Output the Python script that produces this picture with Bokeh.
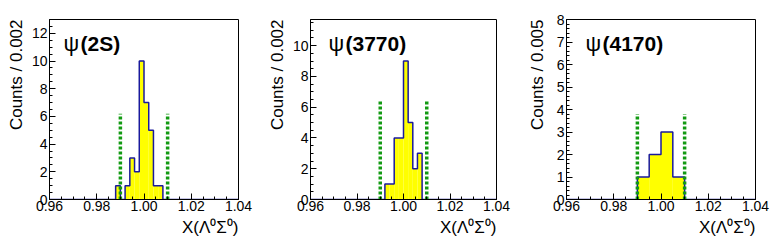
import numpy as np
from bokeh.plotting import figure
from bokeh.layouts import row
from bokeh.models import Range1d, FixedTicker, Label, Title
from bokeh.embed import file_html
from bokeh.resources import INLINE

# ---------------- data ----------------
x_min, x_max = 0.96, 1.04
x_major = [0.96, 0.98, 1.00, 1.02, 1.04]
x_tick_labels = ["0.96", "0.98", "1.00", "1.02", "1.04"]
x_minor_step = 0.005
x_title = "X(Λ⁰Σ⁰)"
cut_lo, cut_hi = 0.99, 1.01

panel_names = ["(2S)", "(3770)", "(4170)"]
y_titles = ["Counts / 0.002", "Counts / 0.002", "Counts / 0.005"]
bin_width = [0.002, 0.002, 0.005]
bin_start = [0.988, 0.992, 0.990]
counts_2s = [1, 0, 1, 3, 2, 10, 7, 5, 1, 1]
counts_3770 = [1, 1, 4, 4, 9, 5, 2, 3]
counts_4170 = [1, 2, 3, 1]
all_counts = [counts_2s, counts_3770, counts_4170]
y_max = [13.0, 11.7, 8.0]
y_major_step = [2, 2, 1]
y_minor_step = [0.5, 0.5, 0.2]
cut_height = [6.2, 6.5, 3.8]

# ---------------- style / layout ----------------
FONT = "Liberation Sans"
fig_w = [262, 257, 256]
b_left = [49, 46, 45]
b_right = [24, 23, 20]
psi_off = [14, 18, 19]
ytitle_standoff = [6, 6, 13]
fig_h = 242
b_top = 19
b_bottom = 43

figs = []
for i in range(3):
    w = bin_width[i]
    nb = int(round((x_max - x_min) / w))
    edges = x_min + w * np.arange(nb + 1)
    full = np.zeros(nb)
    k0 = int(round((bin_start[i] - x_min) / w))
    full[k0:k0 + len(all_counts[i])] = all_counts[i]

    p = figure(width=fig_w[i], height=fig_h, output_backend="svg", toolbar_location=None,
               x_range=Range1d(x_min, x_max), y_range=Range1d(0, y_max[i]))
    p.min_border_left = b_left[i]
    p.min_border_right = b_right[i]
    p.min_border_top = b_top
    p.min_border_bottom = b_bottom
    p.grid.visible = False
    p.outline_line_color = "black"
    p.outline_line_width = 1
    p.background_fill_color = "white"
    p.border_fill_color = "white"

    nz = full > 0
    p.quad(left=edges[:-1][nz], right=edges[1:][nz], top=full[nz], bottom=0,
           fill_color="#ffff00", line_color=None)
    xs = np.repeat(edges, 2)[1:-1]
    ys = np.repeat(full, 2)
    xs = np.concatenate([[x_min], xs, [x_max]])
    ys = np.concatenate([[0], ys, [0]])
    p.line(xs, ys, line_color="#1a1a9c", line_width=1.5)

    p.segment(x0=[cut_lo, cut_hi], y0=[0, 0], x1=[cut_lo, cut_hi],
              y1=[cut_height[i], cut_height[i]],
              line_color="#129a12", line_width=3.5, line_dash="3 2")

    xax = p.xaxis[0]
    xax.ticker = FixedTicker(ticks=x_major,
                             minor_ticks=list(np.arange(x_min, x_max + 1e-9, x_minor_step)))
    xax.major_label_overrides = {t: s for t, s in zip(x_major, x_tick_labels)}
    yax = p.yaxis[0]
    y_maj = list(np.arange(0, y_max[i] + 1e-9, y_major_step[i]))
    yax.ticker = FixedTicker(ticks=y_maj,
                             minor_ticks=list(np.arange(0, y_max[i] + 1e-9, y_minor_step[i])))
    yax.major_label_overrides = {float(t): "%d" % t for t in y_maj}
    for ax in (xax, yax):
        ax.major_tick_in = 6
        ax.major_tick_out = 0
        ax.minor_tick_in = 3
        ax.minor_tick_out = 0
        ax.axis_line_color = "black"
        ax.major_tick_line_color = "black"
        ax.minor_tick_line_color = "black"
        ax.major_label_text_font = FONT
        ax.major_label_text_font_size = "14px"
        ax.major_label_text_color = "black"
    xax.major_label_standoff = 1
    yax.major_label_standoff = 2

    # panel name
    p.add_layout(Label(x=x_min, y=y_max[i], x_offset=psi_off[i], y_offset=-24, text="ψ",
                       text_font=FONT, text_font_size="22px", text_baseline="middle",
                       text_color="black"))
    p.add_layout(Label(x=x_min, y=y_max[i], x_offset=psi_off[i] + 17, y_offset=-24,
                       text=panel_names[i], text_font=FONT, text_font_size="21px",
                       text_font_style="bold", text_baseline="middle", text_color="black"))
    # axis titles
    p.add_layout(Title(text=y_titles[i], align="right", text_font=FONT,
                       text_font_size="17px", text_font_style="normal", text_color="black",
                       standoff=ytitle_standoff[i]), "left")
    p.add_layout(Title(text=x_title, align="right", text_font=FONT,
                       text_font_size="17px", text_font_style="normal", text_color="black",
                       standoff=5), "below")
    figs.append(p)

layout = row(*figs)
open("out.html", "w").write(file_html(layout, INLINE))
